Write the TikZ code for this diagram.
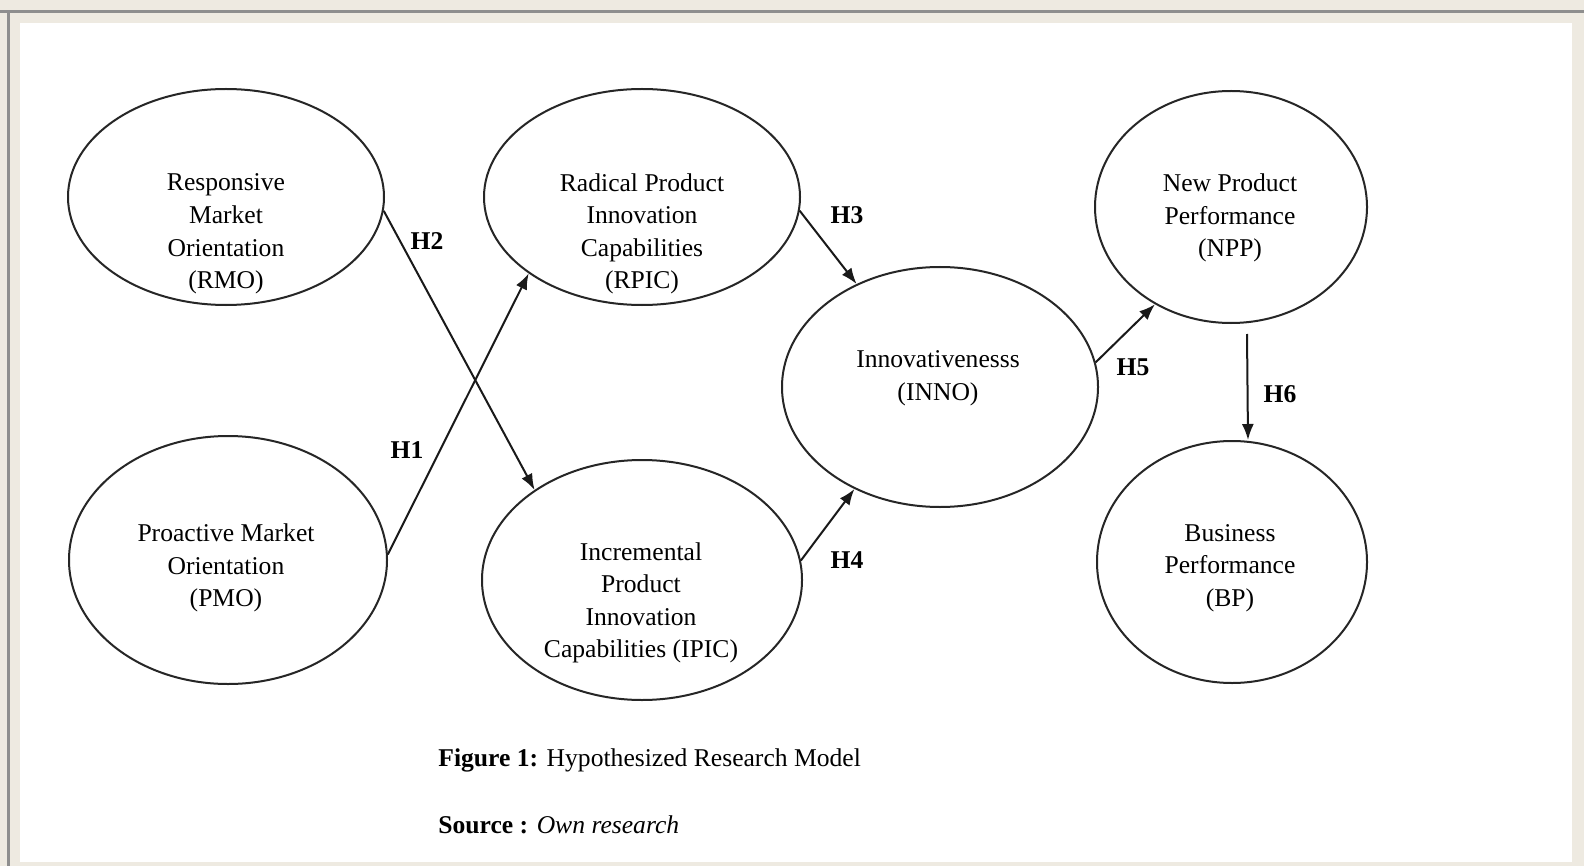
\documentclass[tikz,border=0pt]{standalone}
\usepackage{fontspec}
\setmainfont{Liberation Serif}
\usetikzlibrary{shapes.geometric,arrows.meta,calc}
\definecolor{bgbeige}{HTML}{EEEAE1}
\definecolor{framegray}{HTML}{8E8E8E}
\begin{document}
\begin{tikzpicture}[x=0.5pt,y=-0.5pt,
  oval/.style={draw=black!85,line width=1pt,ellipse,inner sep=0pt},
  txt/.style={align=center,inner sep=0pt,font=\fontsize{12.8}{16.25}\selectfont},
  hyp/.style={inner sep=0pt,font=\fontsize{12.8}{15}\selectfont\bfseries},
  captxt/.style={inner sep=0pt,anchor=west,font=\fontsize{12.8}{15}\selectfont},
  arr/.style={draw=black!90,line width=1pt,-{Latex[length=8pt,width=6pt]}},
]
\useasboundingbox (0,0) rectangle (1584,866);
\fill[bgbeige] (0,0) rectangle (1584,866);
\fill[framegray] (0,10) rectangle (1584,13);
\fill[framegray] (7,10) rectangle (10,866);
\fill[white] (20,23) rectangle (1572,862);

% ellipses
\node[oval,minimum width=158pt,minimum height=108pt] (rmo) at (226,197) {};
\node[oval,minimum width=159pt,minimum height=124pt] (pmo) at (228,560) {};
\node[oval,minimum width=158pt,minimum height=108pt] (rpic) at (642,197) {};
\node[oval,minimum width=160pt,minimum height=120pt] (ipic) at (642,580) {};
\node[oval,minimum width=158pt,minimum height=120pt] (inno) at (940,387) {};
\node[oval,minimum width=136pt,minimum height=116pt] (npp) at (1231,207) {};
\node[oval,minimum width=135pt,minimum height=121pt] (bp) at (1232,562) {};

% texts
\node[txt] (rmo-t) at (226,234) {Responsive\\Market\\Orientation\\(RMO)};
\node[txt] (pmo-t) at (226,568) {Proactive Market\\Orientation\\(PMO)};
\node[txt] (rpic-t) at (642,234) {Radical Product\\Innovation\\Capabilities\\(RPIC)};
\node[txt] (ipic-t) at (641,603) {Incremental\\Product\\Innovation\\Capabilities (IPIC)};
\node[txt] (inno-t) at (938,378) {Innovativenesss\\(INNO)};
\node[txt] (npp-t) at (1230,218) {New Product\\Performance\\(NPP)};
\node[txt] (bp-t) at (1230,568) {Business\\Performance\\(BP)};

% connectors
\draw[arr] (rmo.-5) -- (ipic.140);
\draw[arr] (pmo.2) -- (rpic.214);
\draw[arr] (rpic.-5) -- (inno.129);
\draw[arr] (ipic.7) -- (inno.230);
\draw[arr] (inno.9) -- (npp.232);
\draw[arr] ([xshift=8pt,yshift=-5pt]npp.south) -- ([xshift=8pt]bp.north);

% hypothesis labels
\node[hyp] (h2) at (427,241) {H2};
\node[hyp] (h1) at (407,450) {H1};
\node[hyp] (h3) at (847,215) {H3};
\node[hyp] (h4) at (847,560) {H4};
\node[hyp] (h5) at (1133,367) {H5};
\node[hyp] (h6) at (1280,394) {H6};

% caption
\node[captxt] (fig) at (438,760) {\textbf{Figure 1:} Hypothesized Research Model};
\node[captxt] (src) at (438,825) {\textbf{Source :} \textit{Own research}};
\end{tikzpicture}
\end{document}
